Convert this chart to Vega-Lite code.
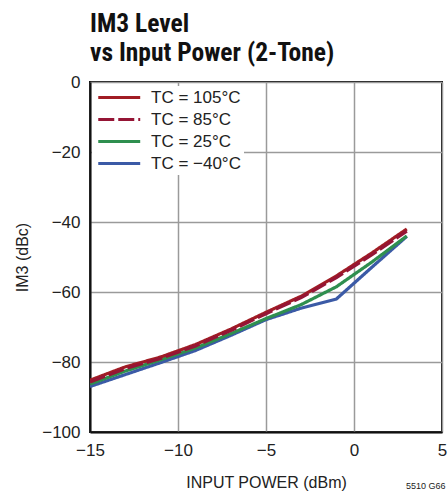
{
  "$schema": "https://vega.github.io/schema/vega-lite/v6.json",
  "width": 352,
  "height": 350,
  "autosize": {"type": "none"},
  "padding": {"left": 90, "top": 82, "right": 6, "bottom": 61},
  "background": "white",
  "title": {
    "text": ["IM3 Level", "vs Input Power (2-Tone)"],
    "anchor": "start",
    "frame": "group",
    "font": "Liberation Sans Narrow, Arial Narrow, Roboto Condensed, sans-serif",
    "fontSize": 25.5,
    "fontWeight": "bold",
    "lineHeight": 29,
    "baseline": "top",
    "offset": 7,
    "color": "#111"
  },
  "config": {
    "view": {"stroke": "#111", "strokeWidth": 2},
    "font": "Liberation Sans Narrow, Arial Narrow, sans-serif",
    "axis": {
      "labelFont": "Liberation Sans Narrow, Arial Narrow, sans-serif",
      "titleFont": "Liberation Sans Narrow, Arial Narrow, sans-serif",
      "labelFontSize": 17,
      "titleFontSize": 16,
      "titleFontWeight": "normal",
      "labelColor": "#222",
      "titleColor": "#222",
      "labelFlush": false,
      "ticks": false,
      "domainColor": "#111",
      "domainWidth": 2,
      "gridColor": "#9a9a9a",
      "gridWidth": 1.5,
      "gridOpacity": 1
    }
  },
  "datasets": {
    "curves": [
      {"p": -15, "im3": -87.0, "series": "TC = −40°C"},
      {"p": -13, "im3": -83.6, "series": "TC = −40°C"},
      {"p": -11, "im3": -80.2, "series": "TC = −40°C"},
      {"p": -9, "im3": -76.7, "series": "TC = −40°C"},
      {"p": -7, "im3": -72.4, "series": "TC = −40°C"},
      {"p": -5, "im3": -67.9, "series": "TC = −40°C"},
      {"p": -3, "im3": -64.6, "series": "TC = −40°C"},
      {"p": -1, "im3": -62.0, "series": "TC = −40°C"},
      {"p": 1, "im3": -53.0, "series": "TC = −40°C"},
      {"p": 3, "im3": -44.1, "series": "TC = −40°C"},
      {"p": -15, "im3": -86.3, "series": "TC = 25°C"},
      {"p": -13, "im3": -82.6, "series": "TC = 25°C"},
      {"p": -11, "im3": -79.4, "series": "TC = 25°C"},
      {"p": -9, "im3": -76.0, "series": "TC = 25°C"},
      {"p": -7, "im3": -71.9, "series": "TC = 25°C"},
      {"p": -5, "im3": -67.6, "series": "TC = 25°C"},
      {"p": -3, "im3": -63.6, "series": "TC = 25°C"},
      {"p": -1, "im3": -58.5, "series": "TC = 25°C"},
      {"p": 1, "im3": -51.5, "series": "TC = 25°C"},
      {"p": 3, "im3": -44.0, "series": "TC = 25°C"},
      {"p": -15, "im3": -85.2, "series": "TC = 105°C"},
      {"p": -13, "im3": -81.4, "series": "TC = 105°C"},
      {"p": -11, "im3": -78.6, "series": "TC = 105°C"},
      {"p": -9, "im3": -75.0, "series": "TC = 105°C"},
      {"p": -7, "im3": -70.6, "series": "TC = 105°C"},
      {"p": -5, "im3": -65.8, "series": "TC = 105°C"},
      {"p": -3, "im3": -61.2, "series": "TC = 105°C"},
      {"p": -1, "im3": -55.4, "series": "TC = 105°C"},
      {"p": 1, "im3": -48.9, "series": "TC = 105°C"},
      {"p": 3, "im3": -42.0, "series": "TC = 105°C"},
      {"p": -15, "im3": -85.7, "series": "TC = 85°C"},
      {"p": -13, "im3": -81.9, "series": "TC = 85°C"},
      {"p": -11, "im3": -79.0, "series": "TC = 85°C"},
      {"p": -9, "im3": -75.4, "series": "TC = 85°C"},
      {"p": -7, "im3": -71.0, "series": "TC = 85°C"},
      {"p": -5, "im3": -66.2, "series": "TC = 85°C"},
      {"p": -3, "im3": -61.6, "series": "TC = 85°C"},
      {"p": -1, "im3": -55.9, "series": "TC = 85°C"},
      {"p": 1, "im3": -49.4, "series": "TC = 85°C"},
      {"p": 3, "im3": -42.6, "series": "TC = 85°C"}
    ],
    "note": [{"p": 2.95, "im3": -116.3, "label": "5510 G66"}]
  },
  "layer": [
    {
      "data": {"name": "curves"},
      "mark": {"type": "line", "strokeWidth": 3.2, "clip": true},
      "encoding": {
        "x": {
          "field": "p", "type": "quantitative",
          "scale": {"domain": [-15, 5], "nice": false},
          "axis": {"title": "INPUT POWER (dBm)", "values": [-15, -10, -5, 0, 5], "labelPadding": 10, "titlePadding": 16}
        },
        "y": {
          "field": "im3", "type": "quantitative",
          "scale": {"domain": [-100, 0], "nice": false},
          "axis": {"title": "IM3 (dBc)", "values": [-100, -80, -60, -40, -20, 0], "labelPadding": 10, "titlePadding": 11}
        },
        "color": {
          "field": "series", "type": "nominal",
          "scale": {
            "domain": ["TC = 105°C", "TC = 85°C", "TC = 25°C", "TC = −40°C"],
            "range": ["#a11d24", "#951535", "#2f8f4f", "#3b5aa6"]
          },
          "legend": {
            "title": null,
            "orient": "none",
            "legendX": 2,
            "legendY": 4,
            "fillColor": "white",
            "padding": 3,
            "symbolType": "M-1,0H7",
            "symbolSize": 110,
            "symbolStrokeWidth": 3.2,
            "labelOffset": 39,
            "labelFontSize": 17,
            "labelColor": "#222",
            "labelFont": "Liberation Sans Narrow, Arial Narrow, sans-serif",
            "rowPadding": 4
          }
        },
        "strokeDash": {
          "field": "series", "type": "nominal",
          "scale": {
            "domain": ["TC = 105°C", "TC = 85°C", "TC = 25°C", "TC = −40°C"],
            "range": [[1, 0], [16, 4], [1, 0], [1, 0]]
          },
          "legend": null
        }
      }
    },
    {
      "data": {"name": "note"},
      "mark": {"type": "text", "fontSize": 9, "align": "left", "baseline": "alphabetic", "color": "#222"},
      "encoding": {
        "x": {"field": "p", "type": "quantitative"},
        "y": {"field": "im3", "type": "quantitative"},
        "text": {"field": "label"}
      }
    }
  ]
}
